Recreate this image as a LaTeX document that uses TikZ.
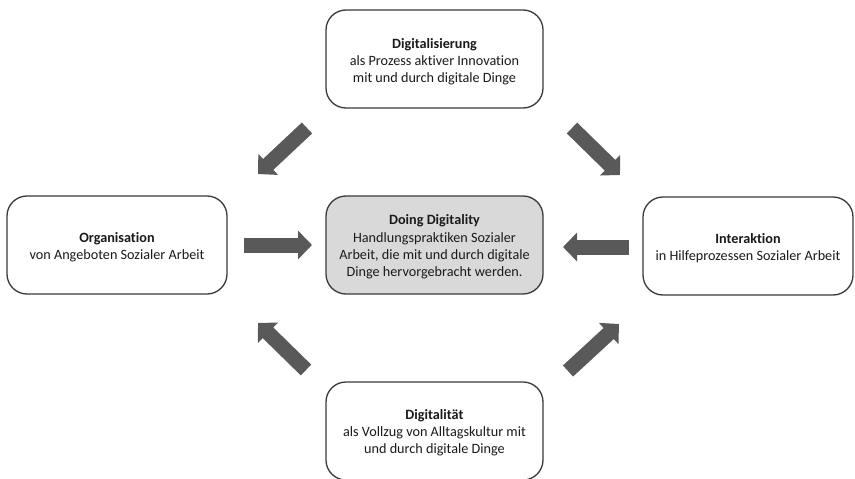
\documentclass[tikz,border=0pt]{standalone}
\usepackage{fontspec}
\setmainfont[Ligatures=NoCommon]{Carlito}
\usetikzlibrary{arrows.meta}
\definecolor{boxline}{HTML}{3A3A3A}
\definecolor{arrowfill}{HTML}{595959}
\definecolor{centerfill}{HTML}{D9D9D9}
\definecolor{txt}{HTML}{1A1A1A}
\begin{document}
\begin{tikzpicture}[x=1pt,y=-1pt,
  box/.style={draw=boxline, line width=1.3pt, rounded corners=20pt, fill=white,
    minimum width=217pt, minimum height=98pt, inner sep=0pt},
  centerbox/.style={box, fill=centerfill},
  boxtext/.style={align=center, inner sep=0pt, yshift=-2pt,
    font=\fontsize{14.2}{17.2}\selectfont, text=txt},
  blockarrow/.style={draw=arrowfill, line width=15pt, line cap=butt,
    -{Triangle[length=14pt,width=28pt]}},
]
\useasboundingbox (0,0) rectangle (855,479);
\node[box] (top) at (434.5,59) {};
\node[boxtext, yshift=-1pt] (topT) at (top) {\textbf{Digitalisierung}\\als Prozess aktiver Innovation\\mit und durch digitale Dinge};
\node[centerbox] (center) at (434.5,245) {};
\node[boxtext] (centerT) at (center) {\textbf{Doing Digitality}\\Handlungspraktiken Sozialer\\Arbeit, die mit und durch digitale\\Dinge hervorgebracht werden.};
\node[box, minimum width=220pt] (left) at (117,245) {};
\node[boxtext] (leftT) at (left) {\textbf{Organisation}\\von Angeboten Sozialer Arbeit};
\node[box, minimum width=210pt] (right) at (748,246) {};
\node[boxtext] (rightT) at (right) {\textbf{Interaktion}\\in Hilfeprozessen Sozialer Arbeit};
\node[box] (bottom) at (434.5,431) {};
\node[boxtext] (bottomT) at (bottom) {\textbf{Digitalität}\\als Vollzug von Alltagskultur mit\\und durch digitale Dinge};
% arrow end points
\coordinate (tlA) at (307,128); \coordinate (tlB) at (258,174);
\coordinate (trA) at (572,128); \coordinate (trB) at (620,175);
\coordinate (blA) at (306,370); \coordinate (blB) at (258,323);
\coordinate (brA) at (568,371); \coordinate (brB) at (619,324);
\coordinate (lA) at (244,245); \coordinate (lB) at (312,245);
\coordinate (rA) at (629,247); \coordinate (rB) at (563,247);
\foreach \a/\b in {tlA/tlB, trA/trB, blA/blB, brA/brB, lA/lB, rA/rB}
  \draw[blockarrow] (\a) -- (\b);
\end{tikzpicture}
\end{document}
